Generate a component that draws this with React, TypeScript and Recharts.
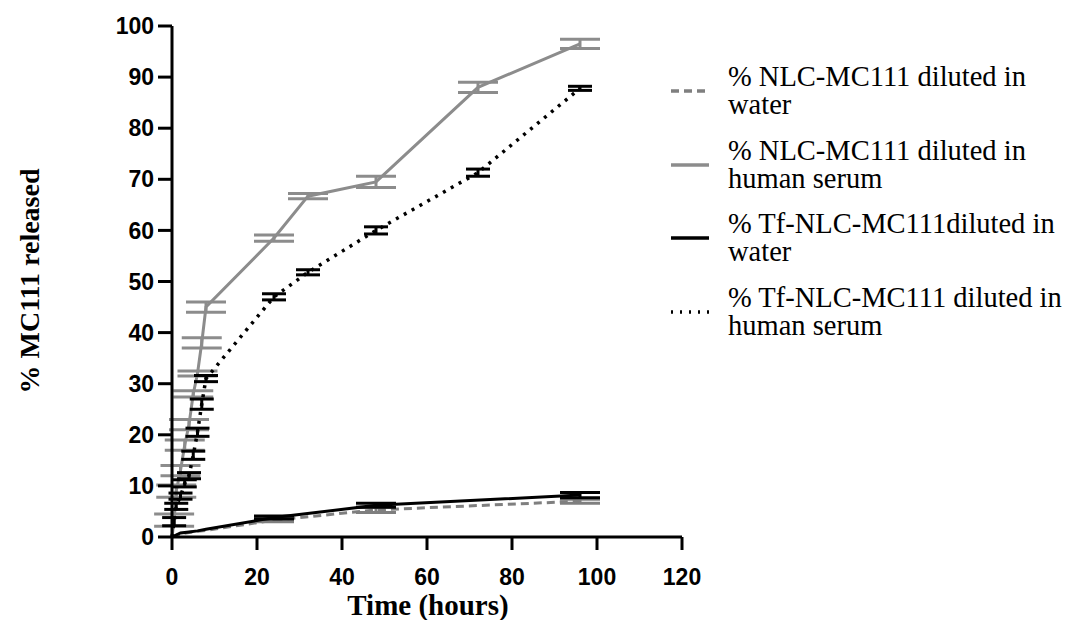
import { LineChart, Line, XAxis, YAxis, ErrorBar } from "recharts";

// sampling times (hours)
const times = [0, 0.5, 1, 2, 3, 4, 5, 6, 7, 8, 24, 32, 48, 72, 96];

// % NLC-MC111 diluted in water (grey dashed) - null where not sampled
const nlcWater = [0, null, null, 0.6, null, 0.9, null, 1.1, null, 1.3, 3.3, null, 5.3, null, 7.0];
const nlcWaterErr = [null, null, null, null, null, null, null, null, null, null, 0.3, null, 0.5, null, 0.4];

// % NLC-MC111 diluted in human serum (grey solid)
const nlcSerum = [0, 3.3, 9, 13, 18, 22, 28, 32, 38, 45, 58.5, 66.7, 69.5, 88, 96.5];
const nlcSerumErr = [null, 1.2, 1.2, 1.0, 1.0, 1.0, 0.6, 0.5, 1.0, 1.0, 0.6, 0.5, 1.1, 1.0, 0.9];

// % Tf-NLC-MC111 diluted in water (black solid)
const tfWater = [0, null, null, 0.8, null, 1.0, null, 1.2, null, 1.5, 3.8, null, 6.2, null, 8.2];
const tfWaterErr = [null, null, null, null, null, null, null, null, null, null, 0.3, null, 0.4, null, 0.5];

// % Tf-NLC-MC111 diluted in human serum (black dotted)
const tfSerum = [0, 3, 6, 8, 10.5, 12, 16, 20.5, 26, 31, 47, 51.8, 60, 71.3, 87.8];
const tfSerumErr = [null, 0.8, 0.6, 0.6, 0.7, 0.6, 0.8, 0.8, 1.0, 0.6, 0.6, 0.5, 0.7, 0.7, 0.4];

const xTicks = [0, 20, 40, 60, 80, 100, 120];
const yTicks = [0, 10, 20, 30, 40, 50, 60, 70, 80, 90, 100];

const legendItems = [
  { lines: ["% NLC-MC111 diluted in", "water"], color: "#7f7f7f", dash: "8 5" },
  { lines: ["% NLC-MC111 diluted in", "human serum"], color: "#8c8c8c", dash: "" },
  { lines: ["% Tf-NLC-MC111diluted in", "water"], color: "#000000", dash: "" },
  { lines: ["% Tf-NLC-MC111 diluted in", "human serum"], color: "#000000", dash: "2 7" },
];

const data = times.map((t, i) => ({
  time: t,
  nlcWater: nlcWater[i],
  nlcWaterErr: nlcWaterErr[i],
  nlcSerum: nlcSerum[i],
  nlcSerumErr: nlcSerumErr[i],
  tfWater: tfWater[i],
  tfWaterErr: tfWaterErr[i],
  tfSerum: tfSerum[i],
  tfSerumErr: tfSerumErr[i],
}));

const tickStyle = {
  fontFamily: "'Liberation Sans', Arial, sans-serif",
  fontWeight: 700,
  fontSize: 23,
  fill: "#000",
};

const serif = "'Liberation Serif', 'Times New Roman', serif";

export default function App() {
  return (
    <div
      style={{
        position: "absolute",
        left: 0,
        top: 0,
        width: 1069,
        height: 620,
        background: "#fff",
        overflow: "hidden",
      }}
    >
      <LineChart
        width={1069}
        height={620}
        data={data}
        margin={{ top: 26, right: 387, bottom: 43, left: 112 }}
      >
        <XAxis
          type="number"
          dataKey="time"
          domain={[0, 120]}
          ticks={xTicks}
          allowDecimals={false}
          tick={tickStyle}
          tickSize={13}
          tickMargin={19}
          height={40}
          axisLine={{ stroke: "#000", strokeWidth: 3 }}
          tickLine={{ stroke: "#000", strokeWidth: 3 }}
        />
        <YAxis
          type="number"
          domain={[0, 100]}
          ticks={yTicks}
          tick={tickStyle}
          tickSize={14}
          tickMargin={4}
          width={60}
          axisLine={{ stroke: "#000", strokeWidth: 3 }}
          tickLine={{ stroke: "#000", strokeWidth: 3 }}
        />
        <Line
          type="linear"
          dataKey="nlcWater"
          stroke="#7f7f7f"
          strokeWidth={3}
          strokeDasharray="8 5"
          connectNulls
          dot={false}
          isAnimationActive={false}
        >
          <ErrorBar dataKey="nlcWaterErr" direction="y" width={20} stroke="#7f7f7f" strokeWidth={3} isAnimationActive={false} />
        </Line>
        <Line
          type="linear"
          dataKey="nlcSerum"
          stroke="#8c8c8c"
          strokeWidth={3}
          dot={false}
          isAnimationActive={false}
        >
          <ErrorBar dataKey="nlcSerumErr" direction="y" width={20} stroke="#8c8c8c" strokeWidth={3} isAnimationActive={false} />
        </Line>
        <Line
          type="linear"
          dataKey="tfWater"
          stroke="#000"
          strokeWidth={3}
          connectNulls
          dot={false}
          isAnimationActive={false}
        >
          <ErrorBar dataKey="tfWaterErr" direction="y" width={20} stroke="#000" strokeWidth={3} isAnimationActive={false} />
        </Line>
        <Line
          type="linear"
          dataKey="tfSerum"
          stroke="#000"
          strokeWidth={3.5}
          strokeDasharray="3 6"
          dot={false}
          isAnimationActive={false}
        >
          <ErrorBar dataKey="tfSerumErr" direction="y" width={12} stroke="#000" strokeWidth={3} isAnimationActive={false} />
        </Line>
      </LineChart>

      {/* y axis title */}
      <div
        style={{
          position: "absolute",
          left: 30,
          top: 281,
          transform: "translate(-50%, -50%) rotate(-90deg)",
          whiteSpace: "nowrap",
          fontFamily: serif,
          fontWeight: 700,
          fontSize: 28,
          color: "#000",
        }}
      >
        % MC111 released
      </div>

      {/* x axis title */}
      <div
        style={{
          position: "absolute",
          left: 428,
          top: 605,
          transform: "translate(-50%, -50%)",
          whiteSpace: "nowrap",
          fontFamily: serif,
          fontWeight: 700,
          fontSize: 29,
          color: "#000",
        }}
      >
        Time (hours)
      </div>

      {/* legend */}
      {legendItems.map((item, i) => (
        <div
          key={i}
          style={{
            position: "absolute",
            left: 668,
            top: 63 + i * 73.5,
            display: "flex",
            alignItems: "center",
          }}
        >
          <svg width={44} height={10} style={{ marginRight: 16 }}>
            <line
              x1={3}
              y1={5}
              x2={41}
              y2={5}
              stroke={item.color}
              strokeWidth={3.5}
              strokeDasharray={item.dash || undefined}
            />
          </svg>
          <div
            style={{
              fontFamily: serif,
              fontSize: 28.5,
              lineHeight: "28px",
              color: "#000",
              whiteSpace: "nowrap",
            }}
          >
            {item.lines.map((l) => (
              <div key={l}>{l}</div>
            ))}
          </div>
        </div>
      ))}
    </div>
  );
}
